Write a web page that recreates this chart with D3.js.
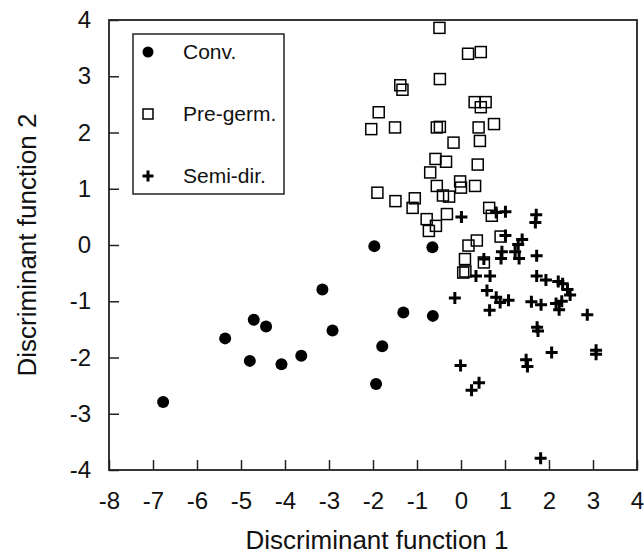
<!DOCTYPE html>
<html>
<head>
<meta charset="utf-8">
<script src="https://cdn.jsdelivr.net/npm/d3@7"></script>
<style>
  body { margin: 0; background: #fff; }
  svg { font-family: "Liberation Sans", Arial, sans-serif; }
</style>
</head>
<body>
<div id="chart"></div>
<script>
// Discriminant scores by treatment group

const conv = [
  [-6.77, -2.79], [-5.36, -1.66], [-4.80, -2.06], [-4.71, -1.33], [-4.43, -1.45],
  [-4.08, -2.12], [-3.63, -1.97], [-3.15, -0.79], [-2.92, -1.52], [-1.97, -0.02],
  [-1.79, -1.80], [-1.93, -2.47], [-1.31, -1.20], [-0.64, -1.26], [-0.65, -0.04]
];

const preGerm = [
  [-0.49, 3.86], [0.16, 3.40], [0.45, 3.43], [-1.38, 2.84], [-1.33, 2.76],
  [-0.48, 2.95], [0.31, 2.54], [0.56, 2.54], [0.45, 2.45], [-1.87, 2.36],
  [-2.04, 2.06], [-1.50, 2.09], [-0.55, 2.09], [-0.48, 2.10], [0.40, 2.09],
  [0.75, 2.15], [0.43, 1.85], [-0.17, 1.82], [-0.58, 1.53], [-0.34, 1.48],
  [0.38, 1.43], [-0.70, 1.29], [-0.55, 1.05], [-0.02, 1.13], [0.00, 1.02],
  [0.32, 1.05], [-0.41, 0.88], [-0.27, 0.86], [-1.90, 0.93], [-1.49, 0.78],
  [-1.05, 0.83], [-1.10, 0.66], [-0.78, 0.46], [-0.57, 0.34], [-0.73, 0.25],
  [-0.32, 0.55], [0.64, 0.66], [0.70, 0.52], [0.36, 0.08], [0.17, -0.01],
  [0.90, 0.15], [0.09, -0.25], [0.52, -0.31], [0.05, -0.49], [0.10, -0.47]
];

const semiDir = [
  [0.01, 0.50], [0.80, 0.58], [1.01, 0.59], [1.71, 0.54], [1.69, 0.40],
  [1.01, 0.17], [1.39, 0.10], [1.30, 0.01], [0.93, -0.12], [1.23, -0.12],
  [0.91, -0.24], [1.32, -0.24], [1.72, -0.19], [0.52, -0.25], [0.34, -0.55],
  [0.66, -0.55], [1.72, -0.55], [1.93, -0.62], [2.21, -0.65], [2.31, -0.69],
  [2.42, -0.79], [2.48, -0.89], [-0.14, -0.94], [0.59, -0.81], [0.80, -0.93],
  [0.89, -1.02], [1.08, -0.98], [0.65, -1.16], [1.60, -1.01], [1.82, -1.06],
  [2.16, -1.04], [2.29, -1.00], [2.23, -1.15], [2.87, -1.24], [1.73, -1.46],
  [1.75, -1.53], [2.06, -1.91], [3.07, -1.87], [3.07, -1.94], [1.48, -2.04],
  [1.51, -2.16], [-0.01, -2.14], [0.41, -2.45], [0.24, -2.58], [1.81, -3.79]
];

const xTicks = [-8, -7, -6, -5, -4, -3, -2, -1, 0, 1, 2, 3, 4];
const yTicks = [-4, -3, -2, -1, 0, 1, 2, 3, 4];
const legendLabels = ["Conv.", "Pre-germ.", "Semi-dir."];

const width = 644, height = 556;
const margin = { top: 20, right: 7, bottom: 86, left: 109 };

const svg = d3.select("#chart").append("svg")
  .attr("width", width)
  .attr("height", height);

const x = d3.scaleLinear().domain([-8, 4]).range([margin.left, width - margin.right]);
const y = d3.scaleLinear().domain([-4, 4]).range([height - margin.bottom, margin.top]);

// axes with inward ticks, plain hyphen for negatives
const fmt = d => String(d);
const xAxis = svg.append("g")
  .attr("transform", `translate(0,${y(-4)})`)
  .call(d3.axisBottom(x).tickValues(xTicks).tickFormat(fmt)
    .tickSize(-10).tickSizeOuter(0).tickPadding(22));
const yAxis = svg.append("g")
  .attr("transform", `translate(${x(-8)},0)`)
  .call(d3.axisLeft(y).tickValues(yTicks).tickFormat(fmt)
    .tickSize(-10).tickSizeOuter(0).tickPadding(18));

[xAxis, yAxis].forEach(g => {
  g.selectAll("text").style("font-size", "24px").attr("fill", "#111");
  g.selectAll("line").attr("stroke", "#222").attr("stroke-width", 1.5);
  g.select(".domain").remove();
});

// frame
svg.append("rect")
  .attr("x", x(-8)).attr("y", y(4))
  .attr("width", x(4) - x(-8)).attr("height", y(-4) - y(4))
  .attr("fill", "none").attr("stroke", "#222").attr("stroke-width", 1.8);

// axis titles
svg.append("text")
  .attr("x", (x(-8) + x(4)) / 2 + 4).attr("y", 549)
  .attr("text-anchor", "middle")
  .style("font-size", "26px").attr("fill", "#111")
  .text("Discriminant function 1");
svg.append("text")
  .attr("transform", `translate(36,${(y(4) + y(-4)) / 2}) rotate(-90)`)
  .attr("text-anchor", "middle")
  .style("font-size", "26px").attr("fill", "#111")
  .text("Discriminant function 2");

const plusPath = s => `M${-s},0H${s}M0,${-s}V${s}`;

// points
svg.append("g").selectAll("circle")
  .data(conv).enter().append("circle")
  .attr("cx", d => x(d[0])).attr("cy", d => y(d[1]))
  .attr("r", 6).attr("fill", "#000");

svg.append("g").selectAll("rect")
  .data(preGerm).enter().append("rect")
  .attr("x", d => x(d[0]) - 5.5).attr("y", d => y(d[1]) - 5.5)
  .attr("width", 11).attr("height", 11)
  .attr("fill", "none").attr("stroke", "#000").attr("stroke-width", 1.5);

svg.append("g").selectAll("path")
  .data(semiDir).enter().append("path")
  .attr("transform", d => `translate(${x(d[0])},${y(d[1])})`)
  .attr("d", plusPath(6))
  .attr("stroke", "#000").attr("stroke-width", 3).attr("fill", "none");

// legend
const legend = svg.append("g");
legend.append("rect")
  .attr("x", 133).attr("y", 34).attr("width", 151).attr("height", 160)
  .attr("fill", "#fff").attr("stroke", "#222").attr("stroke-width", 1.5);

const rows = legend.selectAll("g.row")
  .data(legendLabels).enter().append("g")
  .attr("class", "row")
  .attr("transform", (d, i) => `translate(148,${52 + i * 62})`);

rows.each(function(d, i) {
  const g = d3.select(this);
  if (i === 0) {
    g.append("circle").attr("r", 5.5).attr("fill", "#000");
  } else if (i === 1) {
    g.append("rect").attr("x", -5).attr("y", -5).attr("width", 10).attr("height", 10)
      .attr("fill", "none").attr("stroke", "#000").attr("stroke-width", 1.5);
  } else {
    g.append("path").attr("d", plusPath(5.5)).attr("stroke", "#000").attr("stroke-width", 3);
  }
  g.append("text")
    .attr("x", 35).attr("dy", "0.35em")
    .style("font-size", "21px").attr("fill", "#111")
    .text(d);
});
</script>
</body>
</html>
